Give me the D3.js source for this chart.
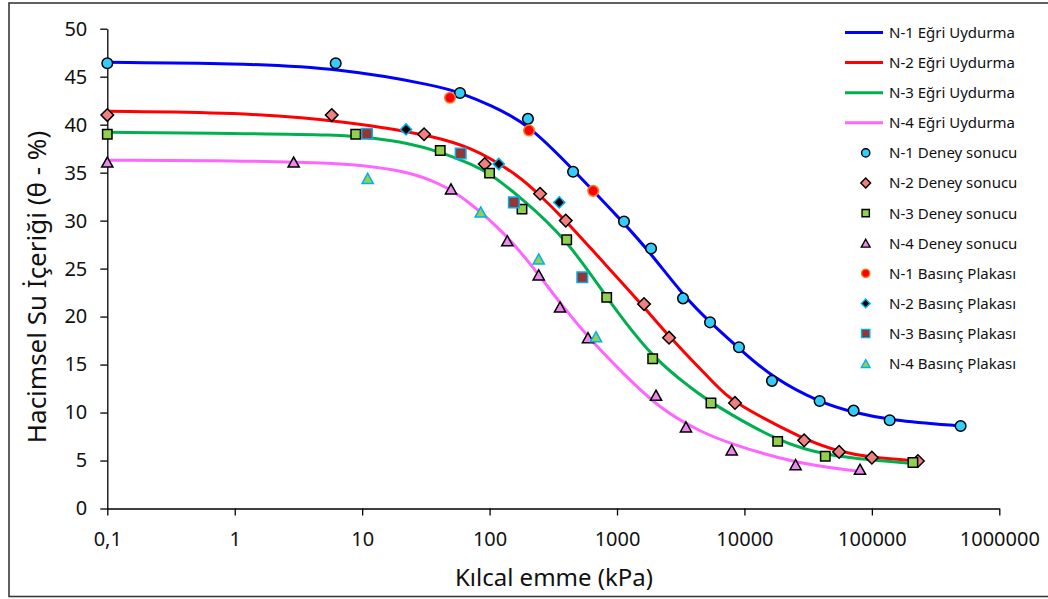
<!DOCTYPE html>
<html><head><meta charset="utf-8">
<script src="https://cdn.jsdelivr.net/npm/d3@7"></script>
<style>body{margin:0;background:#fff}svg{display:block}</style>
</head><body><svg id="c" width="1048" height="599"></svg>
<script>
// ---- tick values / labels ----
const xTickValues = [0.1, 1, 10, 100, 1000, 10000, 100000, 1000000];
const xTickLabels = ["0,1", "1", "10", "100", "1000", "10000", "100000", "1000000"];
const yTickValues = [0, 5, 10, 15, 20, 25, 30, 35, 40, 45, 50];

// ---- fitted curves [suction kPa, theta %] ----
const n1Fit = [[0.1,46.5],[1,46.4],[6.7,45.9],[40.8,44.0],[59.3,43.3],[100,42.1],[200,40.1],[454,35.3],[1161,29.6],[1837,26.6],[3311,22.2],[5370,19.4],[9230,16.6],[16670,13.6],[39650,11.0],[72400,10.0],[138700,9.2],[507000,8.6]];
const n2Fit = [[0.1,41.4],[1,41.3],[8,40.35],[40.8,38.7],[74.5,37.4],[100.7,36.5],[163,34.8],[234,33.0],[396,30.0],[652,26.8],[1637,21.0],[2558,17.9],[6430,12.4],[8380,11.0],[29900,7.1],[56900,5.9],[98900,5.3],[235000,4.95]];
const n3Fit = [[0.1,39.2],[1,39.1],[6.7,38.95],[12.2,38.6],[22.4,38.1],[40.8,37.2],[74.5,35.8],[100.7,34.9],[173,32.5],[403,28.1],[834,21.9],[1914,15.6],[3970,12.4],[5460,11.0],[18230,7.0],[43100,5.44],[210000,4.7]];
const n4Fit = [[0.1,36.3],[1,36.25],[6.7,36.0],[12.2,35.6],[22.4,35.1],[40.8,33.9],[66,32.2],[137,28.5],[243,24.4],[357,21.4],[614,17.6],[1191,13.7],[2173,10.4],[4480,8.0],[7940,6.7],[25200,4.7],[76000,3.9]];

// ---- measured points ----
const n1Deney = [[0.1,46.4],[6.2,46.4],[58.6,43.3],[200,40.6],[452,35.1],[1135,29.9],[1850,27.1],[3296,21.9],[5370,19.4],[9060,16.8],[16440,13.3],[38900,11.2],[71900,10.2],[138000,9.2],[497000,8.6]];
const n2Deney = [[0.1,41.0],[5.77,41.0],[30.6,39.0],[91.6,35.9],[249,32.8],[396,30.0],[1629,21.3],[2561,17.8],[8430,11.0],[29400,7.1],[55300,5.9],[100000,5.3],[229600,4.95]];
const n3Deney = [[0.1,39.0],[8.9,39.0],[41.0,37.3],[100,34.95],[179.6,31.2],[403,28.0],[830,22.0],[1905,15.6],[5460,11.0],[18230,7.0],[43100,5.45],[210000,4.8]];
const n4Deney = [[0.1,36.1],[2.9,36.1],[49.8,33.3],[137.7,27.9],[243,24.35],[357,21.0],[592,17.8],[2023,11.8],[3476,8.5],[7940,6.1],[25200,4.57],[80700,4.09]];
const n1Basinc = [[48.9,42.8],[204,39.4],[650,33.1]];
const n2Basinc = [[22.1,39.5],[118,35.9],[352,31.9]];
const n3Basinc = [[10.9,39.05],[59.3,37.0],[155,31.9],[534,24.1]];
const n4Basinc = [[11.05,34.4],[85.2,30.9],[243,26.0],[684,17.9]];

const lineNames = ["N-1 Eğri Uydurma","N-2 Eğri Uydurma","N-3 Eğri Uydurma","N-4 Eğri Uydurma"];
const deneyNames = ["N-1 Deney sonucu","N-2 Deney sonucu","N-3 Deney sonucu","N-4 Deney sonucu"];
const basincNames = ["N-1 Basınç Plakası","N-2 Basınç Plakası","N-3 Basınç Plakası","N-4 Basınç Plakası"];
const xTitle = "Kılcal emme (kPa)";
const yTitle = "Hacimsel Su İçeriği (θ - %)";

// ---- styles ----
const lineColors = ["#0000FF","#FF0000","#00B050","#FF66FF"];
const markerStyles = {
  d1:{shape:"circle",fill:"#33CCFF",stroke:"#000",size:5.3},
  d2:{shape:"diamond",fill:"#F08080",stroke:"#000",size:6.3},
  d3:{shape:"square",fill:"#92D050",stroke:"#000",size:4.7},
  d4:{shape:"triangle",fill:"#EE88EE",stroke:"#000",size:5.6},
  b1:{shape:"circle",fill:"#FF0000",stroke:"#FF7A1A",size:5.3},
  b2:{shape:"diamond",fill:"#000000",stroke:"#00B0F0",size:5.6},
  b3:{shape:"square",fill:"#943634",stroke:"#00B0F0",size:5.3},
  b4:{shape:"triangle",fill:"#92D050",stroke:"#00B0F0",size:5.6}
};
const FONT = "'Noto Sans', 'Open Sans', sans-serif";

const svg = d3.select("#c");
const plotL = 107.3, plotR = 999.3, plotT = 28.7, plotB = 508.5;

const x = d3.scaleLog().domain([0.1, 1000000]).range([plotL, plotR]);
const y = d3.scaleLinear().domain([0, 50]).range([plotB, plotT]);

// frame
svg.append("rect").attr("x",9).attr("y",3).attr("width",1060).attr("height",593.5)
  .attr("fill","#fff").attr("stroke","#3a3a3a").attr("stroke-width",1.6);

// axes
const xAxis = d3.axisBottom(x).tickValues(xTickValues)
  .tickFormat((d,i)=>xTickLabels[i]).tickSizeInner(7).tickSizeOuter(0).tickPadding(16);
const gx = svg.append("g").attr("transform",`translate(0,${plotB})`).call(xAxis);
gx.select(".domain").attr("stroke","#000").attr("stroke-width",1.3);
gx.selectAll(".tick line").attr("stroke","#000").attr("stroke-width",1.3);
gx.selectAll(".tick text").attr("font-family",FONT).attr("font-size",20).attr("fill","#111");

const yAxis = d3.axisLeft(y).tickValues(yTickValues).tickSizeInner(7).tickSizeOuter(0).tickPadding(13);
const gy = svg.append("g").attr("transform",`translate(${plotL},0)`).call(yAxis);
gy.select(".domain").attr("stroke","#000").attr("stroke-width",1.3);
gy.selectAll(".tick line").attr("stroke","#000").attr("stroke-width",1.3);
gy.selectAll(".tick text").attr("font-family",FONT).attr("font-size",20).attr("fill","#111");

// titles
svg.append("text").attr("x",554).attr("y",586).attr("text-anchor","middle")
  .attr("font-family",FONT).attr("font-size",24).attr("fill","#111").text(xTitle);
svg.append("text").attr("transform","translate(46,287) rotate(-90)").attr("text-anchor","middle")
  .attr("font-family",FONT).attr("font-size",26).attr("fill","#111").text(yTitle);

// curves
const lineGen = d3.line().x(d=>x(d[0])).y(d=>y(d[1])).curve(d3.curveBasis);
[n1Fit,n2Fit,n3Fit,n4Fit].forEach((s,i)=>{
  svg.append("path").datum(s).attr("d",lineGen).attr("fill","none")
    .attr("stroke",lineColors[i]).attr("stroke-width",3);
});

// marker path
function markerPath(shape, s){
  if(shape==="circle"){const p=d3.path();p.arc(0,0,s,0,2*Math.PI);p.closePath();return p.toString();}
  if(shape==="diamond") return `M0,${-s}L${s},0L0,${s}L${-s},0Z`;
  if(shape==="square") return `M${-s},${-s}H${s}V${s}H${-s}Z`;
  if(shape==="triangle"){const h=s*0.9;return `M0,${-h}L${s},${h}L${-s},${h}Z`;}
}
function drawMarkers(data, st){
  svg.append("g").selectAll("path").data(data).join("path")
    .attr("transform",d=>`translate(${x(d[0])},${y(d[1])})`)
    .attr("d",markerPath(st.shape,st.size))
    .attr("fill",st.fill).attr("stroke",st.stroke).attr("stroke-width",1.5);
}
drawMarkers(n1Deney, markerStyles.d1);
drawMarkers(n2Deney, markerStyles.d2);
drawMarkers(n3Deney, markerStyles.d3);
drawMarkers(n4Deney, markerStyles.d4);
drawMarkers(n1Basinc, markerStyles.b1);
drawMarkers(n2Basinc, markerStyles.b2);
drawMarkers(n3Basinc, markerStyles.b3);
drawMarkers(n4Basinc, markerStyles.b4);

// legend
const lg = svg.append("g");
const rowY0 = 32.5, rowStep = 30.1;
lineNames.forEach((n,i)=>{
  const yy = rowY0 + i*rowStep;
  lg.append("line").attr("x1",845).attr("x2",883).attr("y1",yy).attr("y2",yy)
    .attr("stroke",lineColors[i]).attr("stroke-width",3);
  lg.append("text").attr("x",889).attr("y",yy).attr("dy","0.36em")
    .attr("font-family",FONT).attr("font-size",15).attr("fill","#111").text(n);
});
const legMarkers = [["d1",deneyNames[0]],["d2",deneyNames[1]],["d3",deneyNames[2]],["d4",deneyNames[3]],
  ["b1",basincNames[0]],["b2",basincNames[1]],["b3",basincNames[2]],["b4",basincNames[3]]];
legMarkers.forEach((m,i)=>{
  const yy = rowY0 + (i+4)*rowStep;
  const st = markerStyles[m[0]];
  lg.append("path").attr("transform",`translate(865.7,${yy})`)
    .attr("d",markerPath(st.shape, st.size*0.78))
    .attr("fill",st.fill).attr("stroke",st.stroke).attr("stroke-width",1.4);
  lg.append("text").attr("x",889).attr("y",yy).attr("dy","0.36em")
    .attr("font-family",FONT).attr("font-size",15).attr("fill","#111").text(m[1]);
});
</script></body></html>
